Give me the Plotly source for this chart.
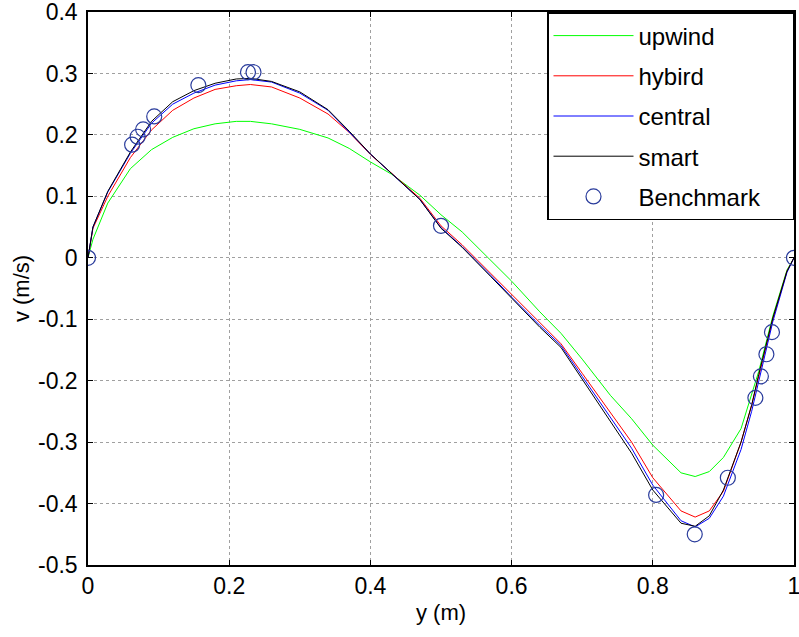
import plotly.graph_objects as go

# ---- data ----
y_grid = [0, 0.007, 0.028, 0.06, 0.09, 0.12, 0.15, 0.18, 0.21, 0.23, 0.26, 0.30, 0.34,
          0.37, 0.40, 0.43, 0.47, 0.50, 0.53, 0.57, 0.60, 0.64, 0.67, 0.70, 0.74, 0.77,
          0.80, 0.84, 0.86, 0.88, 0.90, 0.925, 0.94, 0.95, 0.97, 0.99, 1.0]

v_upwind = [0, 0.030, 0.089, 0.145, 0.176, 0.196, 0.210, 0.218, 0.222, 0.222, 0.218, 0.209,
            0.195, 0.178, 0.156, 0.136, 0.102, 0.070, 0.042, -0.004, -0.038, -0.088, -0.123,
            -0.165, -0.224, -0.262, -0.305, -0.350, -0.356, -0.348, -0.325, -0.278, -0.222,
            -0.185, -0.095, -0.020, 0]

v_hybird = [0, 0.048, 0.100, 0.163, 0.208, 0.240, 0.260, 0.274, 0.280, 0.282, 0.278, 0.260,
            0.234, 0.204, 0.168, 0.137, 0.097, 0.052, 0.021, -0.025, -0.060, -0.106, -0.140,
            -0.188, -0.253, -0.300, -0.358, -0.412, -0.422, -0.412, -0.380, -0.300, -0.240,
            -0.192, -0.100, -0.022, 0]

v_central = [0, 0.050, 0.107, 0.170, 0.219, 0.250, 0.268, 0.281, 0.288, 0.290, 0.286, 0.268,
             0.240, 0.205, 0.169, 0.137, 0.095, 0.049, 0.018, -0.028, -0.064, -0.110, -0.143,
             -0.193, -0.260, -0.310, -0.370, -0.428, -0.438, -0.424, -0.388, -0.312, -0.250,
             -0.200, -0.104, -0.024, 0]

v_smart = [0, 0.050, 0.108, 0.172, 0.222, 0.254, 0.272, 0.284, 0.291, 0.292, 0.287, 0.270,
           0.241, 0.206, 0.169, 0.137, 0.095, 0.048, 0.017, -0.030, -0.066, -0.113, -0.146,
           -0.198, -0.266, -0.318, -0.378, -0.432, -0.437, -0.420, -0.378, -0.300, -0.240,
           -0.190, -0.098, -0.022, 0]

bench_y = [0, 0.0625, 0.0703, 0.0781, 0.0938, 0.1563, 0.2266, 0.2344, 0.5, 0.8047, 0.8594,
           0.9063, 0.9453, 0.9531, 0.9609, 0.9688, 1.0]
bench_v = [0, 0.184, 0.197, 0.209, 0.230, 0.281, 0.302, 0.302, 0.052, -0.386, -0.450,
           -0.358, -0.228, -0.193, -0.157, -0.121, 0]

x_ticks = [0, 0.2, 0.4, 0.6, 0.8, 1]
x_labels = ["0", "0.2", "0.4", "0.6", "0.8", "1"]
y_ticks = [0.4, 0.3, 0.2, 0.1, 0, -0.1, -0.2, -0.3, -0.4, -0.5]
y_labels = ["0.4", "0.3", "0.2", "0.1", "0", "-0.1", "-0.2", "-0.3", "-0.4", "-0.5"]

FONT = "Liberation Sans, Arial, sans-serif"
PAD = "\u00a0" * 4

fig = go.Figure()
series = [("upwind", v_upwind, "#00ff00"),
          ("hybird", v_hybird, "#ff0000"),
          ("central", v_central, "#0000ff"),
          ("smart", v_smart, "#000000")]
for name, vals, col in series:
    fig.add_trace(go.Scatter(x=y_grid, y=vals, mode="lines", name=name, legendgroup=name,
                             line=dict(color=col, width=1)))
fig.add_trace(go.Scatter(x=bench_y, y=bench_v, mode="markers", name="Benchmark" + PAD,
                         legendgroup="bench",
                         marker=dict(symbol="circle-open", size=15, color="#2a3c9c",
                                     line=dict(width=1.2, color="#2a3c9c"))))

axis_common = dict(showline=True, linecolor="black", linewidth=1.5, mirror="ticks",
                   ticks="inside", ticklen=5, tickcolor="black", automargin=False,
                   ticklabeloverflow="allow",
                   showgrid=True, gridcolor="#a0a0a0", griddash="dot", gridwidth=1,
                   zeroline=False, tickfont=dict(family=FONT, size=23, color="black"))

fig.update_layout(
    width=799, height=637,
    margin=dict(l=88, r=5, t=12, b=72),
    paper_bgcolor="white", plot_bgcolor="white",
    font=dict(family=FONT, color="black"),
    xaxis=dict(range=[0, 1], tickvals=x_ticks, ticktext=x_labels,
               title=dict(text="y (m)", font=dict(family=FONT, size=22), standoff=6),
               **axis_common),
    yaxis=dict(range=[-0.5, 0.4], tickvals=y_ticks, ticktext=y_labels,
               ticklabelstandoff=4,
               title=dict(text="v (m/s)", font=dict(family=FONT, size=22), standoff=2),
               **axis_common),
    showlegend=True,
    legend=dict(x=1, y=1, xanchor="right", yanchor="top", bgcolor="white",
                bordercolor="black", borderwidth=1.5, tracegroupgap=6, itemwidth=80,
                font=dict(family=FONT, size=24, color="black")),
)

fig.write_html("out.html")
